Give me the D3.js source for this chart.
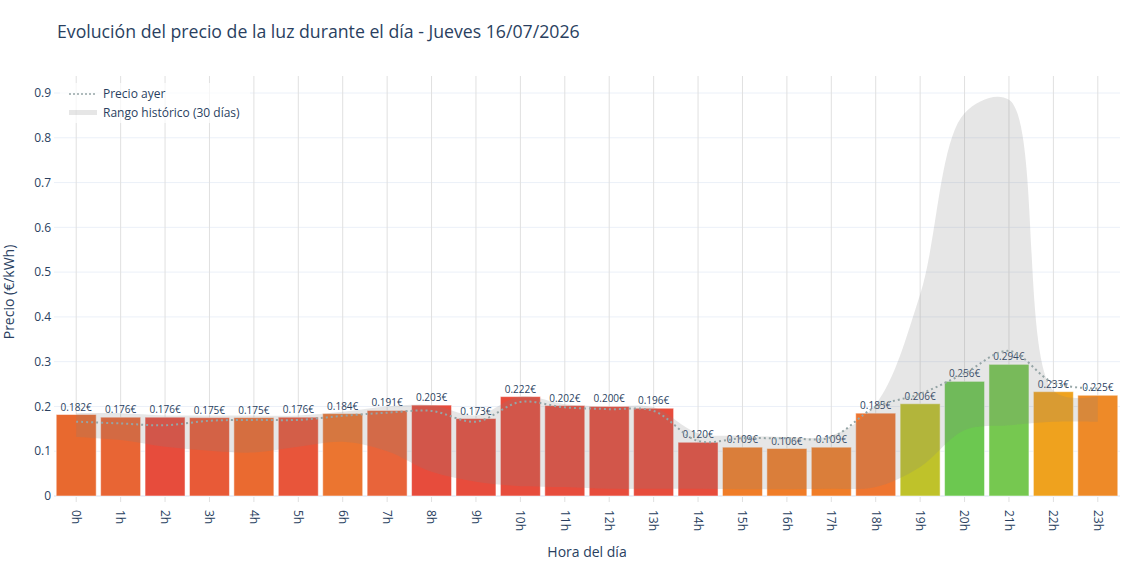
<!DOCTYPE html>
<html>
<head>
<meta charset="utf-8">
<script src="https://cdn.jsdelivr.net/npm/d3@7"></script>
<style>
  body { margin: 0; background: #fff; }
  svg text { font-family: "Open Sans", verdana, arial, sans-serif; fill: #2a3f5f; }
</style>
</head>
<body>
<div id="chart"></div>
<script>
// hours of the day
var hours = ["0h","1h","2h","3h","4h","5h","6h","7h","8h","9h","10h","11h",
             "12h","13h","14h","15h","16h","17h","18h","19h","20h","21h","22h","23h"];

// today's price (€/kWh)
var prices = [0.182, 0.176, 0.176, 0.175, 0.175, 0.176, 0.184, 0.191, 0.203, 0.173, 0.222, 0.202,
              0.200, 0.196, 0.120, 0.109, 0.106, 0.109, 0.185, 0.206, 0.256, 0.294, 0.233, 0.225];

// bar colours
var barColors = ["#e8692f","#e86534","#e74c3c","#e85a37","#ea6a30","#e8553a","#eb7530","#e8643a",
                 "#e74c3c","#e74c3c","#e74c3c","#e74c3c","#e74c3c","#e74c3c","#e74c3c","#f07d28",
                 "#f07d28","#f07d28","#ee7530","#bfc22a","#6cc850","#76c850","#efa21e","#ee8a28"];

// yesterday's price (dotted line)
var yesterday = [0.166, 0.162, 0.158, 0.168, 0.170, 0.170, 0.179, 0.186, 0.190, 0.166, 0.210, 0.198,
                 0.194, 0.190, 0.123, 0.129, 0.129, 0.131, 0.199, 0.228, 0.274, 0.324, 0.253, 0.240];

// historic range (30 days)
var histMax = [0.185, 0.185, 0.180, 0.180, 0.180, 0.180, 0.188, 0.200, 0.203, 0.180, 0.222, 0.205,
               0.200, 0.198, 0.140, 0.135, 0.132, 0.135, 0.205, 0.450, 0.855, 0.885, 0.235, 0.222];
var histMin = [0.132, 0.125, 0.110, 0.101, 0.097, 0.110, 0.121, 0.100, 0.054, 0.032, 0.022, 0.020,
               0.016, 0.016, 0.016, 0.015, 0.015, 0.016, 0.020, 0.065, 0.147, 0.158, 0.166, 0.166];

var yTicks = [0, 0.1, 0.2, 0.3, 0.4, 0.5, 0.6, 0.7, 0.8, 0.9];

function init() {
    var W = 1140, H = 570;
    var left = 54, right = 1120, top = 76, bottom = 496;

    var svg = d3.select("#chart").append("svg")
        .attr("width", W)
        .attr("height", H);

    var data = hours.map(function(h, i) {
        return { hour: h, price: prices[i], color: barColors[i], ayer: yesterday[i], hi: histMax[i], lo: histMin[i] };
    });

    var xScale = d3.scaleBand()
        .domain(hours)
        .range([left, right])
        .paddingInner(0.1)
        .paddingOuter(0.05);
    var cx = function(h) { return xScale(h) + xScale.bandwidth() / 2; };

    var yScale = d3.scaleLinear()
        .domain([0, 0.938])
        .range([bottom, top]);

    // horizontal grid
    svg.append("g").selectAll("line")
        .data(yTicks.slice(1))
        .enter().append("line")
        .attr("x1", left).attr("x2", right)
        .attr("y1", function(d) { return yScale(d); })
        .attr("y2", function(d) { return yScale(d); })
        .attr("stroke", "#ebf0f8")
        .attr("stroke-width", 1);

    // vertical grid (one per hour) + outside ticks
    svg.append("g").selectAll("line")
        .data(hours)
        .enter().append("line")
        .attr("x1", cx).attr("x2", cx)
        .attr("y1", top).attr("y2", bottom + 6)
        .attr("stroke", "#e0e0e0")
        .attr("stroke-width", 1);

    // zero line
    svg.append("line")
        .attr("x1", left).attr("x2", right)
        .attr("y1", yScale(0)).attr("y2", yScale(0))
        .attr("stroke", "#ebf0f8")
        .attr("stroke-width", 2);

    // bars
    svg.append("g").selectAll("rect")
        .data(data)
        .enter().append("rect")
        .attr("x", function(d) { return xScale(d.hour); })
        .attr("width", xScale.bandwidth())
        .attr("y", function(d) { return yScale(d.price); })
        .attr("height", function(d) { return yScale(0) - yScale(d.price); })
        .attr("fill", function(d) { return d.color; })
        .attr("stroke", "rgba(255,255,255,0.5)")
        .attr("stroke-width", 1);

    // bar labels
    svg.append("g").selectAll("text")
        .data(data)
        .enter().append("text")
        .attr("x", function(d) { return cx(d.hour); })
        .attr("y", function(d) { return yScale(d.price) - 4; })
        .attr("text-anchor", "middle")
        .attr("font-size", 10)
        .text(function(d) { return d.price.toFixed(3) + "€"; });

    // historic range band
    var band = d3.area()
        .x(function(d) { return cx(d.hour); })
        .y0(function(d) { return yScale(d.lo); })
        .y1(function(d) { return yScale(d.hi); })
        .curve(d3.curveCatmullRom);

    svg.append("path")
        .datum(data)
        .attr("d", band)
        .attr("fill", "rgba(128,128,128,0.2)");

    // yesterday's price
    var line = d3.line()
        .x(function(d) { return cx(d.hour); })
        .y(function(d) { return yScale(d.ayer); })
        .curve(d3.curveCatmullRom);

    svg.append("path")
        .datum(data)
        .attr("d", line)
        .attr("fill", "none")
        .attr("stroke", "#95a5a6")
        .attr("stroke-width", 2)
        .attr("stroke-dasharray", "2 3");

    // y axis labels
    svg.append("g").selectAll("text")
        .data(yTicks)
        .enter().append("text")
        .attr("x", left - 3)
        .attr("y", function(d) { return yScale(d); })
        .attr("dy", "0.35em")
        .attr("text-anchor", "end")
        .attr("font-size", 12)
        .text(function(d) { return d === 0 ? "0" : d3.format(".1f")(d); });

    // x axis labels (rotated)
    svg.append("g").selectAll("text")
        .data(hours)
        .enter().append("text")
        .attr("transform", function(d) { return "translate(" + cx(d) + "," + (bottom + 14) + ") rotate(90)"; })
        .attr("dy", "0.35em")
        .attr("text-anchor", "start")
        .attr("font-size", 12)
        .text(function(d) { return d; });

    // axis titles
    svg.append("text")
        .attr("x", (left + right) / 2)
        .attr("y", 557)
        .attr("text-anchor", "middle")
        .attr("font-size", 14)
        .text("Hora del día");

    svg.append("text")
        .attr("transform", "translate(9," + ((top + bottom) / 2 + 6) + ") rotate(-90)")
        .attr("dy", "0.35em")
        .attr("text-anchor", "middle")
        .attr("font-size", 14)
        .text("Precio (€/kWh)");

    // title
    svg.append("text")
        .attr("x", 57)
        .attr("y", 38)
        .attr("font-size", 17.7)
        .text("Evolución del precio de la luz durante el día - Jueves 16/07/2026");

    // legend
    var lg = svg.append("g").attr("transform", "translate(60,83)");
    lg.append("rect")
        .attr("width", 190).attr("height", 40)
        .attr("fill", "rgba(255,255,255,0.7)");
    lg.append("line")
        .attr("x1", 9).attr("x2", 37).attr("y1", 11).attr("y2", 11)
        .attr("stroke", "#95a5a6").attr("stroke-width", 1.5)
        .attr("stroke-dasharray", "2 2");
    lg.append("text")
        .attr("x", 43).attr("y", 11).attr("dy", "0.35em")
        .attr("font-size", 12).text("Precio ayer");
    lg.append("rect")
        .attr("x", 9).attr("y", 27).attr("width", 28).attr("height", 5)
        .attr("fill", "rgba(128,128,128,0.2)");
    lg.append("text")
        .attr("x", 43).attr("y", 29.5).attr("dy", "0.35em")
        .attr("font-size", 12).text("Rango histórico (30 días)");
}

window.onload = init;
</script>
</body>
</html>
